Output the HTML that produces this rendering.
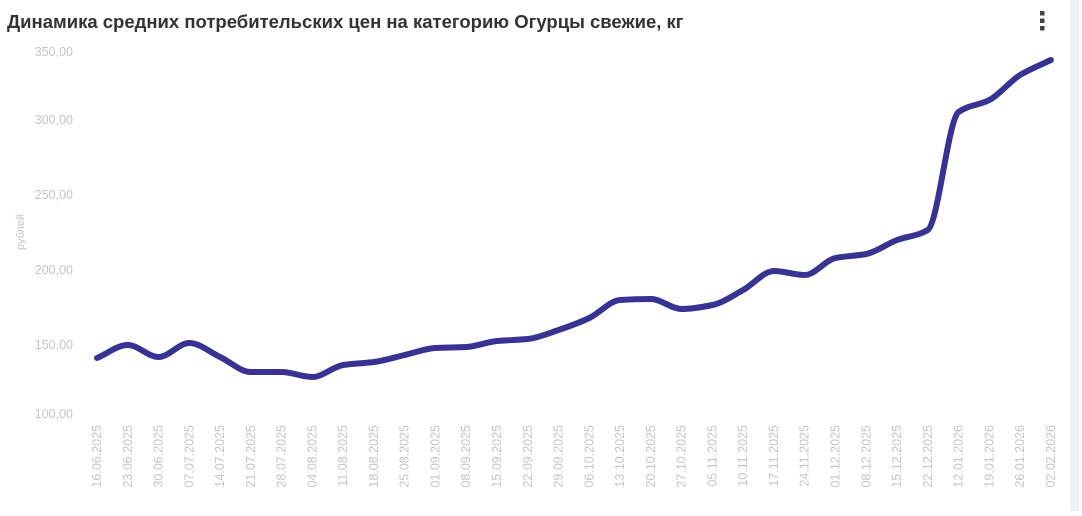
<!DOCTYPE html>
<html><head><meta charset="utf-8"><style>
body{margin:0;background:#fff;width:1082px;height:511px;overflow:hidden;font-family:"Liberation Sans",sans-serif}
</style></head><body>
<svg id="s" width="1082" height="511" xmlns="http://www.w3.org/2000/svg" font-family="Liberation Sans, sans-serif">
<rect x="1070" y="0" width="9" height="511" fill="#eef1f5"/>
<text x="7" y="28" font-size="18.5" font-weight="bold" fill="#333">Динамика средних потребительских цен на категорию Огурцы свежие, кг</text>
<rect x="1040" y="11" width="4.5" height="4.5" fill="#444"/><rect x="1040" y="18.5" width="4.5" height="4.5" fill="#444"/><rect x="1040" y="26" width="4.5" height="4.5" fill="#444"/>
<g font-size="12.5" fill="#c4c4c4" text-anchor="end">
<text x="73" y="56">350,00</text><text x="73" y="124">300,00</text><text x="73" y="199">250,00</text>
<text x="73" y="274">200,00</text><text x="73" y="349">150,00</text><text x="73" y="418">100,00</text>
</g>
<text transform="translate(24,232) rotate(-90)" font-size="11" fill="#c4c4c4" text-anchor="middle">рублей</text>
<g id="xl" font-size="12.5" fill="#c4c4c4" text-anchor="end"></g>
<path id="ln" fill="none" stroke="#383392" stroke-width="6" stroke-linecap="round" stroke-linejoin="round"/>
</svg>
<script>
var d=["16.06.2025","23.06.2025","30.06.2025","07.07.2025","14.07.2025","21.07.2025","28.07.2025","04.08.2025","11.08.2025","18.08.2025","25.08.2025","01.09.2025","08.09.2025","15.09.2025","22.09.2025","29.09.2025","06.10.2025","13.10.2025","20.10.2025","27.10.2025","05.11.2025","10.11.2025","17.11.2025","24.11.2025","01.12.2025","08.12.2025","15.12.2025","22.12.2025","12.01.2026","19.01.2026","26.01.2026","02.02.2026"];
var y=[358,345,357,343,357,372,372,377,365,362,355,348,347,341,339,330,318,300,299,309,305,290,271,275,258,254,240,230,112,100,75,60];
var g=document.getElementById('xl'),h='',X=[];
for(var i=0;i<d.length;i++){var x=97+30.77*i;X.push(x);
h+='<text transform="translate('+(x+4)+',425) rotate(-90)">'+d[i]+'</text>';}
g.innerHTML=h;
var n=X.length,dl=[],m=[];
for(i=0;i<n-1;i++)dl.push((y[i+1]-y[i])/(X[i+1]-X[i]));
m[0]=dl[0];m[n-1]=dl[n-2];
for(i=1;i<n-1;i++){if(dl[i-1]*dl[i]<=0)m[i]=0;else{var a=dl[i-1],b=dl[i];m[i]=2/(1/a+1/b);}}
var s='M'+X[0]+','+y[0];
for(i=0;i<n-1;i++){var hh=(X[i+1]-X[i])/3;
s+=' C'+(X[i]+hh)+','+(y[i]+m[i]*hh)+' '+(X[i+1]-hh)+','+(y[i+1]-m[i+1]*hh)+' '+X[i+1]+','+y[i+1];}
document.getElementById('ln').setAttribute('d',s);
</script>
</body></html>
